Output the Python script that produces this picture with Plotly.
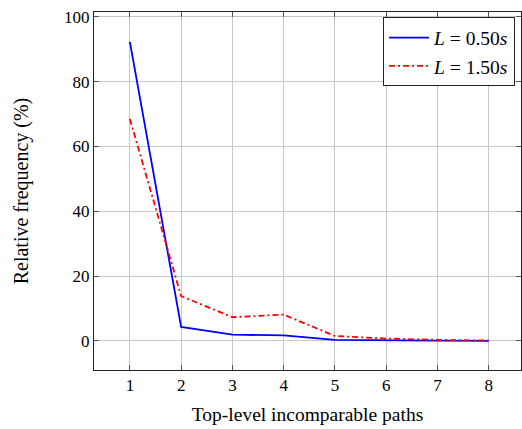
import plotly.graph_objects as go

paths = [1, 2, 3, 4, 5, 6, 7, 8]
freq_050 = [92.3, 4.3, 1.9, 1.7, 0.3, 0.1, 0.05, 0.0]
freq_150 = [68.5, 13.8, 7.3, 8.1, 1.5, 0.7, 0.3, 0.1]
series_names = ["<i>L</i> = 0.50<i>s</i>", "<i>L</i> = 1.50<i>s</i>"]
x_ticks = [1, 2, 3, 4, 5, 6, 7, 8]
y_ticks = [0, 20, 40, 60, 80, 100]

font = "Liberation Serif"

fig = go.Figure()
fig.add_trace(go.Scatter(x=paths, y=freq_050, mode="lines", name=series_names[0],
                         line=dict(color="#0000ff", width=1.8)))
fig.add_trace(go.Scatter(x=paths, y=freq_150, mode="lines", name=series_names[1],
                         line=dict(color="#ff0000", width=1.8, dash="6px,3px,2px,3px")))

axis_common = dict(showgrid=True, gridcolor="#c8c8c8", gridwidth=1,
                   showline=True, linecolor="#222", linewidth=1, mirror="ticks",
                   ticks="inside", ticklen=5, tickcolor="#555",
                   zeroline=False, tickfont=dict(family=font, size=17, color="#000"))

fig.update_layout(
    width=522, height=429,
    margin=dict(l=94, r=1, t=12, b=59, autoexpand=False),
    paper_bgcolor="white", plot_bgcolor="white",
    font=dict(family=font, size=16, color="#000"),
    xaxis=dict(range=[0.3, 8.63], tickvals=x_ticks,
               title=dict(text="Top-level incomparable paths", standoff=12, font=dict(size=19.5)),
               **axis_common),
    yaxis=dict(range=[-9, 101.5], tickvals=y_ticks,
               title=dict(text="Relative frequency (%)", standoff=30, font=dict(size=20)),
               **axis_common),
    legend=dict(x=0.986, y=0.985, xanchor="right", yanchor="top",
                bgcolor="white", bordercolor="#222", borderwidth=1,
                font=dict(family=font, size=19.5), tracegroupgap=0, itemwidth=40),
    showlegend=True,
)

fig.write_html("out.html", config={"displayModeBar": False},
               post_script="document.body.style.margin='0';document.body.style.padding='0';")
